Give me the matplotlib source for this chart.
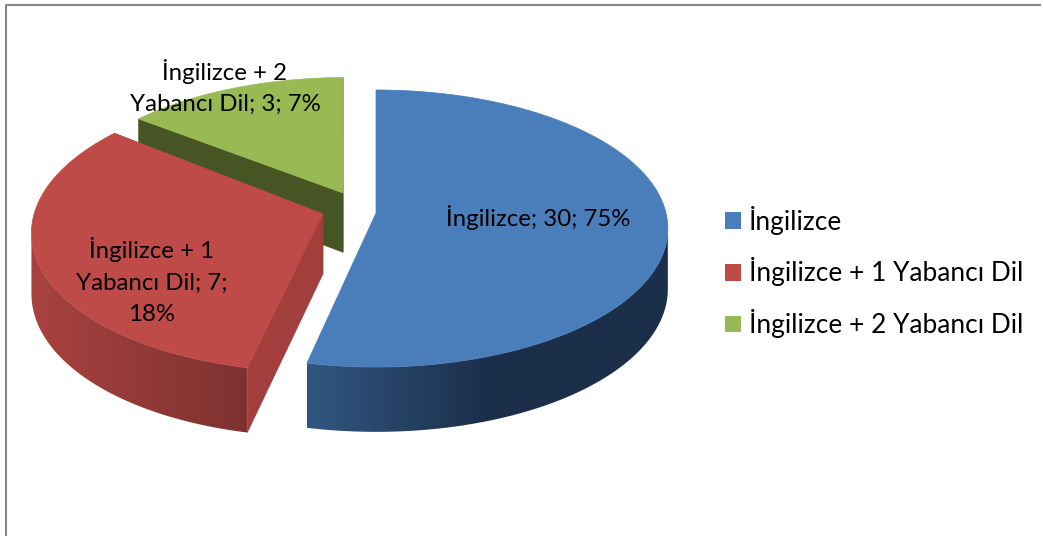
import numpy as np
import matplotlib
matplotlib.use('Agg')
import matplotlib.pyplot as plt
from matplotlib.colors import to_rgb
from matplotlib.patches import Patch, Polygon

plt.rcParams['font.family'] = ['Lato', 'DejaVu Sans']

categories = ['İngilizce', 'İngilizce + 1 Yabancı Dil', 'İngilizce + 2 Yabancı Dil']
# the slices in the picture are not drawn to the printed percentages, so
# the drawn shares are read off the picture separately from the labels
drawn_shares = [53.4, 32.2, 14.2]
counts = [30, 7, 3]
percents = [75, 18, 7]

top_colors = ['#4A7EBB', '#BE4B48', '#98B954']
wall_left = ['#315781', '#A8423F', '#5A6E2E']
wall_right = ['#1B2F4A', '#7E3230', '#3F4F20']
cut_colors = ['#1B2F4A', '#A23E3B', '#465523']

# pie placement in pixels
X0, Y0 = 376, 213
RX, RY = 290, 136.8
K = 0.112
DEPTH = 60
explode = [(0, 0), (-0.183, 0.007), (-0.116, -0.149)]
radius = [(1.0, 1.0), (0.995, 1.02), (0.98, 0.965)]
cut_ends = [[0], [0, -1], [0, -1]]  # blue's second cut face looks away from us


def project(u, v):
    return X0 + RX*u/(1 - K*v), Y0 + RY*v/(1 - K*v)


def gradient(c1, c2, stop=1.0):
    t = np.clip(np.linspace(0, 1, 256)/stop, 0, 1)[None, :, None]
    return np.array(to_rgb(c1))*(1 - t) + np.array(to_rgb(c2))*t


fig = plt.figure(figsize=(10.43, 5.36), dpi=100)
ax = fig.add_axes([0, 0, 1, 1])

edges = np.concatenate([[0], np.cumsum(drawn_shares)])/100*360

# back to front: green, red, blue
for i in [2, 1, 0]:
    z = 10 - 3*i
    ang = np.radians(np.linspace(edges[i], edges[i+1], 240))
    u = explode[i][0] + radius[i][0]*np.sin(ang)
    v = explode[i][1] - radius[i][1]*np.cos(ang)
    x, y = project(u, v)
    h = DEPTH*(1 + 0.08*v)

    # outer wall, only the front part where the arc runs right to left
    front = np.gradient(x) < 0
    if front.any():
        fx, fy, fh = x[front], y[front], h[front]
        wall = Polygon(np.c_[np.r_[fx, fx[::-1]], np.r_[fy, (fy+fh)[::-1]]], closed=True,
                       transform=ax.transData, fc='none', ec='none')
        ax.add_patch(wall)
        im = ax.imshow(gradient(wall_left[i], wall_right[i], 0.5 if i == 0 else 1.0), aspect='auto',
                       extent=[fx.min(), fx.max(), 536, 0], zorder=z)
        im.set_clip_path(wall)

    # cut faces running from the apex out to the ends of the arc
    ax_x, ax_y = project(*explode[i])
    ax_h = DEPTH*(1 + 0.08*explode[i][1])
    for e in cut_ends[i]:
        ax.fill([ax_x, x[e], x[e], ax_x], [ax_y, y[e], y[e]+h[e], ax_y+ax_h],
                color=cut_colors[i], lw=0.5, zorder=z+1)

    ax.fill(np.r_[ax_x, x], np.r_[ax_y, y], color=top_colors[i], lw=0.5, zorder=z+2)

ax.set_xlim(0, 1043)
ax.set_ylim(536, 0)
ax.axis('off')

# labels on the slices
ax.text(538, 217, f'{categories[0]}; {counts[0]}; {percents[0]}%', fontsize=17.3,
        ha='center', va='center', color='black', zorder=20)
ax.text(152, 281, f'İngilizce + 1\nYabancı Dil; {counts[1]};\n{percents[1]}%', fontsize=17.3,
        ha='center', va='center', color='black', linespacing=1.62, zorder=20)
ax.text(225, 87, f'İngilizce + 2\nYabancı Dil; {counts[2]}; {percents[2]}%', fontsize=17.3,
        ha='center', va='center', color='black', linespacing=1.62, zorder=20)

handles = [Patch(facecolor=c, edgecolor='none', label=n) for c, n in zip(top_colors, categories)]
ax.legend(handles=handles, loc='center left', bbox_to_anchor=(725/1043, 1 - 272/536), frameon=False,
          fontsize=18.9, handlelength=0.6, handleheight=0.6, handletextpad=0.3,
          labelspacing=0.87, borderpad=0, borderaxespad=0)

# outer chart border, only top and left are in the crop
ax.plot([5.5, 5.5, 1040], [536, 4.5, 4.5], color='#868686', lw=1.5, zorder=30)

fig.savefig('out.png', dpi=100)
